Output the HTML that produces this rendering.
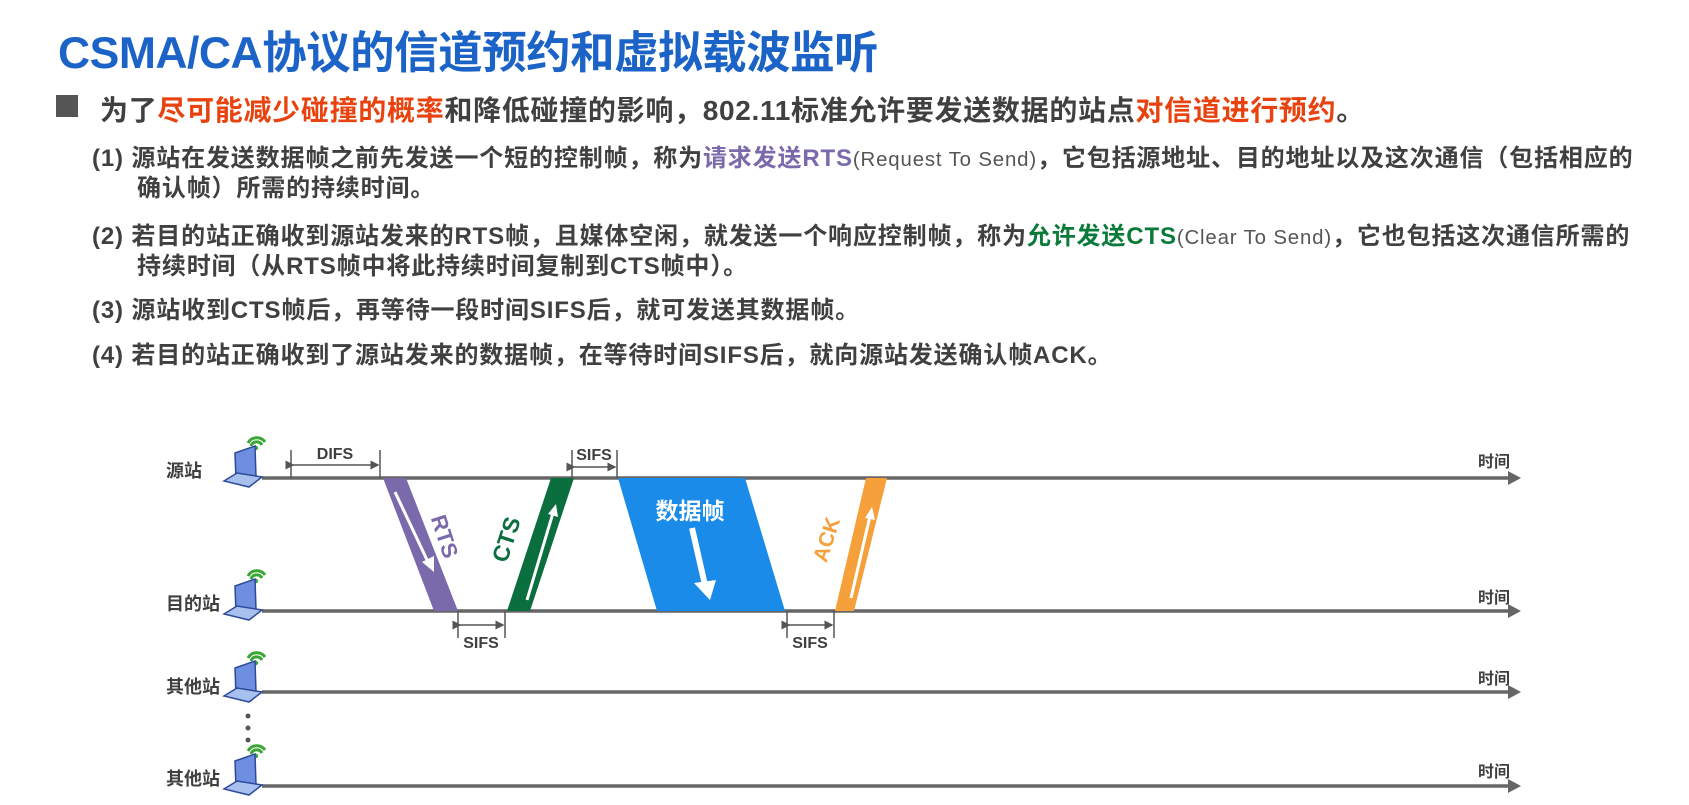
<!DOCTYPE html>
<html><head><meta charset="utf-8"><style>
body{margin:0;width:1689px;height:805px;background:#fff;overflow:hidden;position:relative;font-family:"Liberation Sans","Noto Sans CJK SC",sans-serif;}
.t{position:absolute;white-space:nowrap;font-weight:bold;color:#404040;}
.lt{font-weight:normal;font-size:0.85em;color:#555;}
.it{font-size:24px;letter-spacing:0.85px;}
</style></head><body>
<div class="t" style="left:58px;top:16px;font-size:44.5px;color:#1b63c6;letter-spacing:-0.5px;">CSMA/CA协议的信道预约和虚拟载波监听</div>
<div style="position:absolute;left:56px;top:95px;width:22px;height:22px;background:#555;"></div>
<div class="t" style="left:100px;top:89px;font-size:28px;letter-spacing:0.7px;">为了<span style="color:#e8430f">尽可能减少碰撞的概率</span>和降低碰撞的影响，802.11标准允许要发送数据的站点<span style="color:#e8430f">对信道进行预约</span>。</div>
<div class="t it" style="left:92px;top:138px;">(1) 源站在发送数据帧之前先发送一个短的控制帧，称为<span style="color:#7a6aab">请求发送RTS</span><span class="lt">(Request To Send)</span>，它包括源地址、目的地址以及这次通信（包括相应的</div>
<div class="t it" style="left:137px;top:168px;">确认帧）所需的持续时间。</div>
<div class="t it" style="left:92px;top:216px;">(2) 若目的站正确收到源站发来的RTS帧，且媒体空闲，就发送一个响应控制帧，称为<span style="color:#0a7a3a">允许发送CTS</span><span class="lt">(Clear To Send)</span>，它也包括这次通信所需的</div>
<div class="t it" style="left:137px;top:246px;">持续时间（从RTS帧中将此持续时间复制到CTS帧中）。</div>
<div class="t it" style="left:92px;top:290px;">(3) 源站收到CTS帧后，再等待一段时间SIFS后，就可发送其数据帧。</div>
<div class="t it" style="left:92px;top:335px;">(4) 若目的站正确收到了源站发来的数据帧，在等待时间SIFS后，就向源站发送确认帧ACK。</div>

<svg width="1689" height="805" style="position:absolute;left:0;top:0" xmlns="http://www.w3.org/2000/svg">
<defs>
<marker id="ah" markerWidth="6" markerHeight="6" refX="5" refY="3" orient="auto"><path d="M0,0 L6,3 L0,6 z" fill="#555"/></marker>
<g id="lap">
<path d="M24,7 a10,10 0 0 1 17,-1" stroke="#3aa635" stroke-width="3" fill="none"/>
<path d="M27,10 a6,6 0 0 1 11,-1" stroke="#3aa635" stroke-width="3" fill="none"/>
<circle cx="32" cy="12" r="2.2" fill="#3aa635"/>
<polygon points="11,17 31,10 32,41 12,45" fill="#6e8fe0" stroke="#2d4a9a" stroke-width="1.5"/>
<polygon points="0,45 13,37 38,41 25,51" fill="#a8c0ee" stroke="#2d4a9a" stroke-width="1.5"/>
</g>
</defs>
<g stroke="#666" stroke-width="3.5">
<line x1="262" y1="478" x2="1512" y2="478"/>
<line x1="262" y1="611" x2="1512" y2="611"/>
<line x1="262" y1="692" x2="1512" y2="692"/>
<line x1="262" y1="786" x2="1512" y2="786"/>
</g>
<g fill="#666">
<polygon points="1508,471 1521,478 1508,485"/>
<polygon points="1508,604 1521,611 1508,618"/>
<polygon points="1508,685 1521,692 1508,699"/>
<polygon points="1508,779 1521,786 1508,793"/>
</g>
<use href="#lap" x="224" y="436"/>
<use href="#lap" x="224" y="569"/>
<use href="#lap" x="224" y="651"/>
<use href="#lap" x="224" y="744"/>
<circle cx="248" cy="716" r="2.5" fill="#555"/><circle cx="248" cy="728" r="2.5" fill="#555"/><circle cx="248" cy="740" r="2.5" fill="#555"/>
<polygon points="383,478 406,478 458,611 434,611" fill="#7a6aab"/>
<polygon points="507,611 530,611 574,478 551,478" fill="#0a6e3e"/>
<polygon points="618,478 745,478 785,611 657,611" fill="#1a8be8"/>
<polygon points="835,611 854,611 887,478 866,478" fill="#f5a03a"/>
<g stroke="#fff" stroke-width="3" fill="#fff">
<line x1="395" y1="492" x2="428" y2="562"/><polygon points="422,562 434,572 434,556" stroke="none"/>
<line x1="527" y1="600" x2="553" y2="513"/><polygon points="548,514 556,504 558,517" stroke="none"/>
<line x1="851" y1="598" x2="870" y2="516"/><polygon points="865,518 872,507 875,520" stroke="none"/>
<line x1="692" y1="528" x2="705" y2="585" stroke-width="6"/><polygon points="694,583 710,600 716,580" stroke="none"/>
</g>
<text transform="translate(443,537) rotate(72)" text-anchor="middle" dominant-baseline="middle" fill="#7a6aab" font-weight="bold" font-size="22" font-family="Liberation Sans,sans-serif">RTS</text>
<text transform="translate(508,540) rotate(-72)" text-anchor="middle" dominant-baseline="middle" fill="#0a6e3e" font-weight="bold" font-size="23" font-family="Liberation Sans,sans-serif">CTS</text>
<text transform="translate(828,540) rotate(-72)" text-anchor="middle" dominant-baseline="middle" fill="#f5a03a" font-weight="bold" font-size="21" font-family="Liberation Sans,sans-serif">ACK</text>
<text x="690" y="519" text-anchor="middle" fill="#fff" font-weight="bold" font-size="23" font-family="Liberation Sans,Noto Sans CJK SC,sans-serif">数据帧</text>
<g stroke="#555" stroke-width="1.5" fill="none">
<line x1="291" y1="450" x2="291" y2="478"/><line x1="380" y1="450" x2="380" y2="478"/>
<line x1="293" y1="465" x2="378" y2="465" marker-end="url(#ah)" marker-start="url(#ah)"/>
<line x1="572" y1="450" x2="572" y2="478"/><line x1="617" y1="450" x2="617" y2="478"/>
<line x1="574" y1="467" x2="615" y2="467" marker-end="url(#ah)" marker-start="url(#ah)"/>
<line x1="458" y1="611" x2="458" y2="638"/><line x1="505" y1="611" x2="505" y2="638"/>
<line x1="460" y1="625" x2="503" y2="625" marker-end="url(#ah)" marker-start="url(#ah)"/>
<line x1="787" y1="611" x2="787" y2="638"/><line x1="834" y1="611" x2="834" y2="638"/>
<line x1="789" y1="625" x2="832" y2="625" marker-end="url(#ah)" marker-start="url(#ah)"/>
</g>
<g fill="#404040" font-weight="bold" font-size="16" font-family="Liberation Sans,Noto Sans CJK SC,sans-serif" text-anchor="middle">
<text x="335" y="459">DIFS</text>
<text x="594" y="460">SIFS</text>
<text x="481" y="648">SIFS</text>
<text x="810" y="648">SIFS</text>
<text x="1494" y="467">时间</text>
<text x="1494" y="603">时间</text>
<text x="1494" y="684">时间</text>
<text x="1494" y="777">时间</text>
</g>
<g fill="#404040" font-weight="bold" font-size="18" font-family="Liberation Sans,Noto Sans CJK SC,sans-serif">
<text x="166" y="477">源站</text>
<text x="166" y="610">目的站</text>
<text x="166" y="693">其他站</text>
<text x="166" y="785">其他站</text>
</g>
</svg>
</body></html>
